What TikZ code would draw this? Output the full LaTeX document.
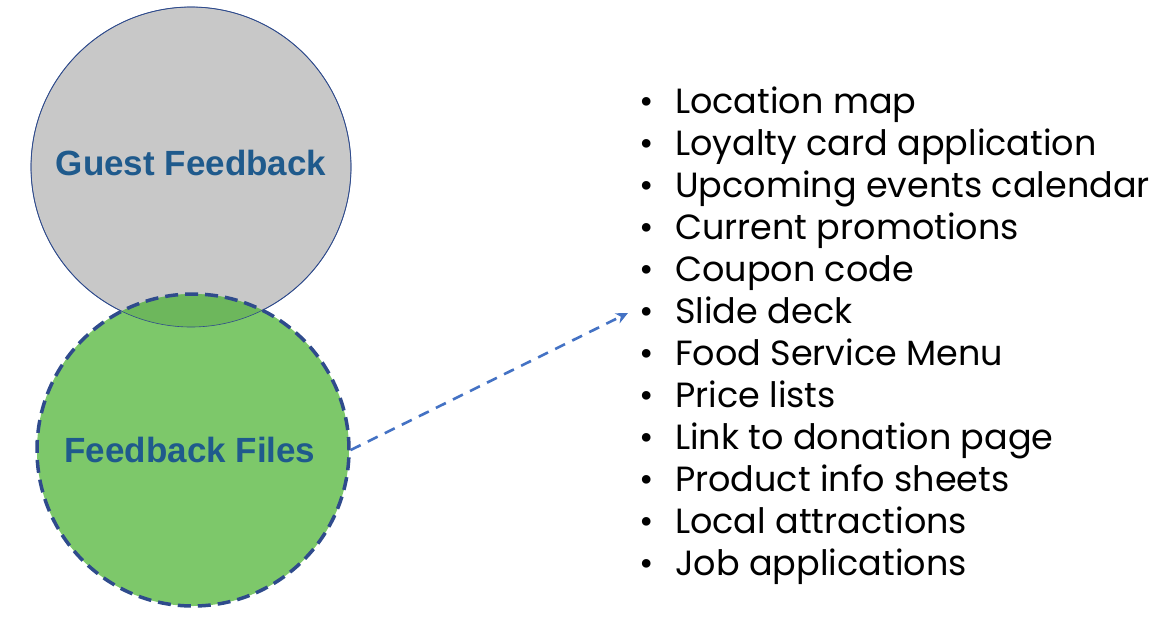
\documentclass[tikz,border=0pt]{standalone}
\usepackage{fontspec}
\setmainfont{Liberation Sans}
\newfontfamily\listfont{Poppins}
\usetikzlibrary{arrows.meta}
\definecolor{gray1}{HTML}{C8C8C8}
\definecolor{green1}{HTML}{7DC86A}
\definecolor{green2}{HTML}{6DB75C}
\definecolor{navy}{HTML}{2F4B8C}
\definecolor{txtblue}{HTML}{1F5A8C}
\definecolor{arrblue}{HTML}{4472C4}
\begin{document}
\begin{tikzpicture}[x=1pt,y=-1pt,
  lbl/.style={font=\fontsize{35}{40}\selectfont\bfseries, text=txtblue},
  item/.style={anchor=base west, font=\listfont\fontsize{35}{40}\selectfont, inner sep=0pt}]
\useasboundingbox (0,0) rectangle (1159,621);
\fill[white] (0,0) rectangle (1159,621);
\node[circle, minimum size=320pt, fill=gray1, draw=navy, line width=0.8pt] (top) at (191,167) {};
\fill[green1] (193,450) circle (156);
\begin{scope}
\clip (191,167) circle (160);
\fill[green2] (193,450) circle (156);
\end{scope}
\draw[navy, line width=0.6pt] (191,167) circle (160);
\node[circle, minimum size=312pt, draw=navy, line width=3.5pt, dash pattern=on 13pt off 7pt] (bot) at (193,450) {};
\node[lbl] (gf) at (191,163) {Guest Feedback};
\node[lbl] (ff) at (190,450) {Feedback Files};
\foreach \t [count=\i from 0] in {Location map, Loyalty card application, Upcoming events calendar, Current promotions, Coupon code, Slide deck, Food Service Menu, Price lists, Link to donation page, Product info sheets, Local attractions, Job applications}{
  \node[item] (b\i) at (639,113+42*\i) {\textbullet};
  \node[item] (l\i) at (675,113+42*\i) {\t};
}
\coordinate (tip) at (628,313);
\draw[arrblue, line width=2.6pt, dash pattern=on 11pt off 8pt, -{Stealth[length=12pt,width=11pt]}] (bot.east) -- (tip);
\end{tikzpicture}
\end{document}
